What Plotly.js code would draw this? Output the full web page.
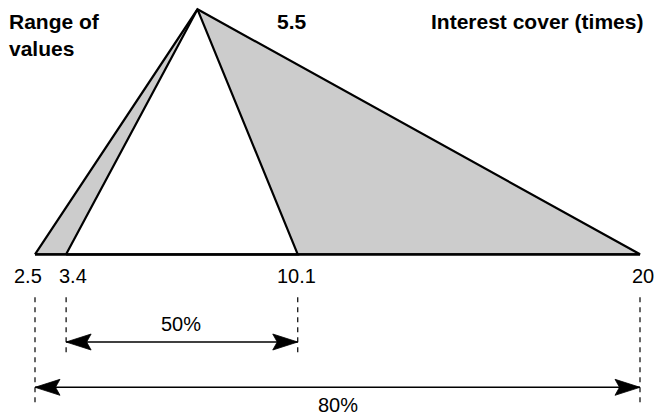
<!DOCTYPE html>
<html>
<head>
<meta charset="utf-8">
<script src="https://cdn.plot.ly/plotly-3.0.1.min.js"></script>
<style>html,body{margin:0;padding:0;background:#fff;}#chart{width:658px;height:418px;}</style>
</head>
<body>
<div id="chart"></div>
<script>
// ---- data ----
const outerRange = [2.5, 20];      // 80% range (min, max)
const innerRange = [3.4, 10.1];    // 50% range
const peakPosition = 7.2;          // x-position of the apex as drawn
const peakLabel = '5.5';
const rangeLabels = ['2.5', '3.4', '10.1', '20'];
const rangeShares = ['50%', '80%'];
const titleLeft = 'Range of<br>values';
const titleRight = 'Interest cover (times)';

// ---- layout geometry ----
const W = 658, H = 418;
const xRange = [1.4876, 20.5207];
const yRange = [-0.66816, 1.03796];
const pxPerY = H / (yRange[1] - yRange[0]);
const pxPerX = W / (xRange[1] - xRange[0]);
const py = p => -p / pxPerY;   // pixel offset below base -> y units
const px = p => p / pxPerX;

const FONT = '"Liberation Sans", Arial, Helvetica, sans-serif';
const traces = [];

// outer triangle (grey)
traces.push({
  x: [outerRange[0], peakPosition, outerRange[1], outerRange[0]],
  y: [0, 1, 0, 0],
  mode: 'lines', fill: 'toself', fillcolor: '#cccccc',
  line: {color: '#000', width: 2.2}, hoverinfo: 'skip'
});
// inner triangle (white)
traces.push({
  x: [innerRange[0], peakPosition, innerRange[1], innerRange[0]],
  y: [0, 1, 0, 0],
  mode: 'lines', fill: 'toself', fillcolor: '#ffffff',
  line: {color: '#000', width: 2.2}, hoverinfo: 'skip'
});
// base line
traces.push({
  x: [outerRange[0], outerRange[1]], y: [0, 0],
  mode: 'lines', line: {color: '#000', width: 2.2}, hoverinfo: 'skip'
});

// double arrows
const arrowRows = [
  {r: innerRange, off: 87.7},
  {r: outerRange, off: 133}
];
const L = 25, HW = 8, NOTCH = 0.82;
arrowRows.forEach(a => {
  const y = py(a.off);
  traces.push({
    x: [a.r[0], a.r[1]], y: [y, y], mode: 'lines',
    line: {color: '#000', width: 1.6}, hoverinfo: 'skip'
  });
  [[a.r[0], 1], [a.r[1], -1]].forEach(([tip, dir]) => {
    traces.push({
      x: [tip, tip + dir * px(L), tip + dir * px(L * NOTCH), tip + dir * px(L), tip],
      y: [y, y + HW / pxPerY, y, y - HW / pxPerY, y],
      mode: 'lines', fill: 'toself', fillcolor: '#000',
      line: {color: '#000', width: 0.8}, hoverinfo: 'skip'
    });
  });
});

// dashed guide lines
const shapes = [];
const dashTop = 43;
[[innerRange, 101], [outerRange, 152]].forEach(([r, bottom]) => {
  r.forEach(v => shapes.push({
    type: 'line', xref: 'x', yref: 'y', x0: v, x1: v, y0: py(dashTop), y1: py(bottom),
    line: {color: '#000', width: 1.2, dash: '5px,5px'}
  }));
});

const labelVals = [outerRange[0], innerRange[0], innerRange[1], outerRange[1]];
const labelShift = [-7, 7, -1, 3];
const annotations = labelVals.map((v, i) => ({
  x: v, y: 0, xref: 'x', yref: 'y', text: rangeLabels[i], showarrow: false,
  xanchor: 'center', yanchor: 'middle', xshift: labelShift[i], yshift: -22,
  font: {family: FONT, size: 20, color: '#000'}
}));
annotations.push({
  x: (innerRange[0] + innerRange[1]) / 2, y: py(87.7), xref: 'x', yref: 'y',
  text: rangeShares[0], showarrow: false, yshift: 18, xshift: -1,
  font: {family: FONT, size: 20, color: '#000'}
});
annotations.push({
  x: (outerRange[0] + outerRange[1]) / 2, y: py(133), xref: 'x', yref: 'y',
  text: rangeShares[1], showarrow: false, yshift: -18,
  font: {family: FONT, size: 20, color: '#000'}
});
const bold = {family: FONT, size: 21, color: '#000', weight: 'bold'};
annotations.push({
  x: 7 / W, y: 1 - 8 / H, xref: 'paper', yref: 'paper', xanchor: 'left', yanchor: 'top',
  align: 'left', text: '<b>' + titleLeft + '</b>', showarrow: false, font: bold
});
annotations.push({
  x: 292 / W, y: 1 - 8 / H, xref: 'paper', yref: 'paper', xanchor: 'center', yanchor: 'top',
  text: '<b>' + peakLabel + '</b>', showarrow: false, font: bold
});
annotations.push({
  x: 645 / W, y: 1 - 8 / H, xref: 'paper', yref: 'paper', xanchor: 'right', yanchor: 'top',
  text: '<b>' + titleRight + '</b>', showarrow: false, font: bold
});

const layout = {
  width: W, height: H,
  margin: {l: 0, r: 0, t: 0, b: 0, pad: 0},
  paper_bgcolor: '#fff', plot_bgcolor: '#fff',
  showlegend: false,
  xaxis: {range: xRange, visible: false, fixedrange: true},
  yaxis: {range: yRange, visible: false, fixedrange: true},
  shapes: shapes, annotations: annotations
};
Plotly.newPlot('chart', traces, layout, {displayModeBar: false, staticPlot: true});
</script>
</body>
</html>
